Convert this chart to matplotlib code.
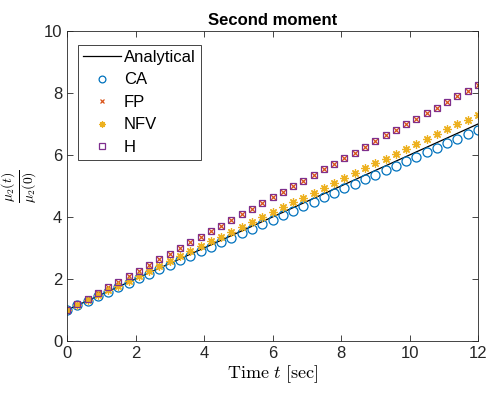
import numpy as np
import matplotlib.pyplot as plt
plt.rcParams['font.family'] = ['Liberation Sans', 'DejaVu Sans']
plt.rcParams['mathtext.fontset'] = 'cm'

# time samples of the numerical schemes
t = [0.0, 0.3, 0.6, 0.9, 1.2, 1.5, 1.8, 2.1, 2.4, 2.7, 3.0, 3.3, 3.6, 3.9,
     4.2, 4.5, 4.8, 5.1, 5.4, 5.7, 6.0, 6.3, 6.6, 6.9, 7.2, 7.5, 7.8, 8.1,
     8.4, 8.7, 9.0, 9.3, 9.6, 9.9, 10.2, 10.5, 10.8, 11.1, 11.4, 11.7, 12.0]

t_exact = [0.0, 12.0]
m_exact = [1.0, 7.0]

m_CA = [1.00, 1.15, 1.29, 1.44, 1.58, 1.73, 1.87, 2.02, 2.16, 2.31, 2.46,
        2.60, 2.75, 2.89, 3.04, 3.18, 3.33, 3.47, 3.62, 3.76, 3.91, 4.06,
        4.20, 4.35, 4.49, 4.64, 4.78, 4.93, 5.07, 5.22, 5.37, 5.51, 5.66,
        5.80, 5.95, 6.09, 6.24, 6.38, 6.53, 6.67, 6.82]
m_FP = [1.00, 1.18, 1.36, 1.54, 1.73, 1.91, 2.09, 2.27, 2.45, 2.63, 2.82,
        3.00, 3.18, 3.36, 3.54, 3.72, 3.90, 4.09, 4.27, 4.45, 4.63, 4.81,
        4.99, 5.17, 5.36, 5.54, 5.72, 5.90, 6.08, 6.26, 6.45, 6.63, 6.81,
        6.99, 7.17, 7.35, 7.53, 7.72, 7.90, 8.08, 8.26]
m_NFV = [1.00, 1.16, 1.32, 1.47, 1.63, 1.79, 1.95, 2.10, 2.26, 2.42, 2.58,
         2.73, 2.89, 3.05, 3.21, 3.36, 3.52, 3.68, 3.84, 3.99, 4.15, 4.31,
         4.47, 4.62, 4.78, 4.94, 5.10, 5.25, 5.41, 5.57, 5.73, 5.88, 6.04,
         6.20, 6.36, 6.51, 6.67, 6.83, 6.99, 7.14, 7.30]
m_H = [1.00, 1.18, 1.36, 1.54, 1.73, 1.91, 2.09, 2.27, 2.45, 2.63, 2.82,
       3.00, 3.18, 3.36, 3.54, 3.72, 3.90, 4.09, 4.27, 4.45, 4.63, 4.81,
       4.99, 5.17, 5.36, 5.54, 5.72, 5.90, 6.08, 6.26, 6.45, 6.63, 6.81,
       6.99, 7.17, 7.35, 7.53, 7.72, 7.90, 8.08, 8.26]

c_CA = (0.0, 0.447, 0.741)
c_FP = (0.85, 0.325, 0.098)
c_NFV = (0.929, 0.694, 0.125)
c_H = (0.494, 0.184, 0.556)

fig = plt.figure(figsize=(4.87, 3.96), dpi=100)
ax = fig.add_axes([67/487, 1 - 341/396, 411/487, 310/396])

ax.plot(t_exact, m_exact, '-', color='k', lw=0.9, label='Analytical')
ax.plot(t, m_CA, 'o', color=c_CA, mfc='none', ms=6.5, mew=0.9, label='CA')
ax.plot(t, m_FP, 'x', color=c_FP, ms=4, mew=0.9, label='FP')
ax.plot(t, m_NFV, marker=(8, 2, 0), ls='none', color=c_NFV, ms=6, mew=0.9, label='NFV')
ax.plot(t, m_H, 's', color=c_H, mfc='none', ms=5, mew=0.9, label='H')

ax.set_xlim(0, 12)
ax.set_ylim(0, 10)
ax.set_xticks(range(0, 13, 2))
ax.set_yticks(range(0, 11, 2))
ax.tick_params(direction='in', top=True, right=True, labelsize=12,
               length=4, width=0.6, colors='0.15')
for s in ax.spines.values():
    s.set_color('0.15')
    s.set_linewidth(0.6)

ax.set_title('Second moment', fontsize=12, fontweight='bold', pad=4)
ax.set_xlabel(r'$\mathrm{Time}\ t\ [\mathrm{sec}]$', fontsize=13, labelpad=2)
ax.set_ylabel(r'$\frac{\mu_2(t)}{\mu_2(0)}$', fontsize=14, labelpad=3)

leg = ax.legend(loc='upper left', bbox_to_anchor=(0.027, 0.955), fontsize=12,
                fancybox=False, edgecolor='0.15', framealpha=1,
                handlelength=2.3, borderpad=0.3, labelspacing=0.45,
                handletextpad=0.15, borderaxespad=0, markerscale=0.75)
leg.get_frame().set_linewidth(0.6)

fig.savefig('out.png', dpi=100)
